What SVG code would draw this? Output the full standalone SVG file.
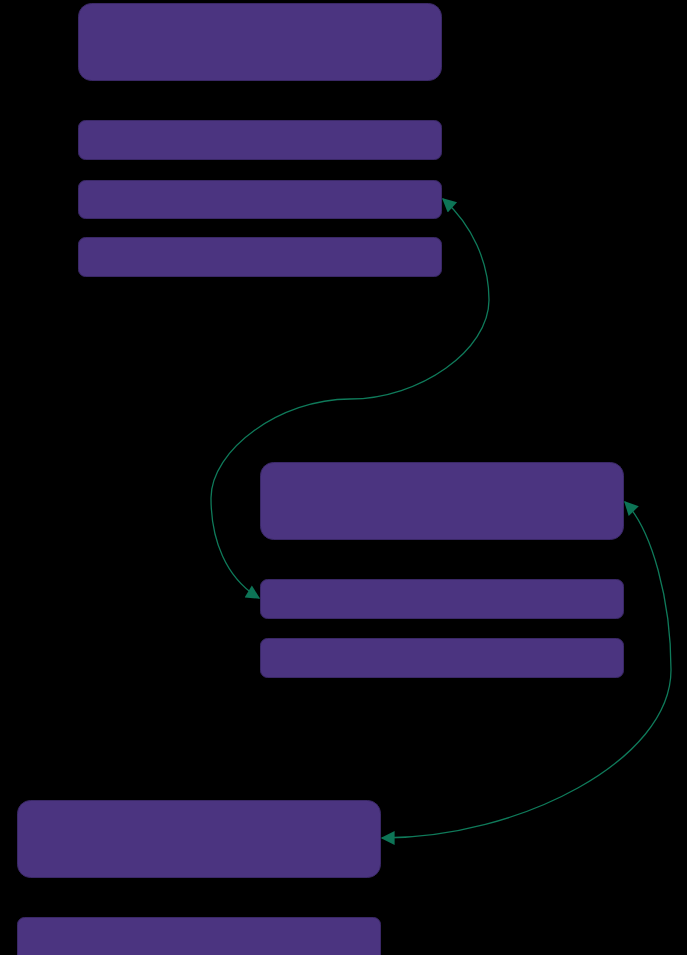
<svg xmlns="http://www.w3.org/2000/svg" width="687" height="955" viewBox="0 0 687 955">
<style>
.n{fill:#4b3480;stroke:#3a2866;stroke-width:1}
.e{fill:none;stroke:#0f7a5a;stroke-width:1.3}
</style>
<defs>
<marker id="ah" viewBox="0 0 10 10" refX="9" refY="5" markerWidth="17" markerHeight="14" markerUnits="userSpaceOnUse" orient="auto-start-reverse">
<path d="M0,0 L10,5 L0,10 z" fill="#0d7456"/>
</marker>
</defs>
<rect width="687" height="955" fill="#000"/>
<g id="node1"><rect class="n" x="78.5" y="3.5" width="363" height="77" rx="13"/></g>
<g id="node2"><rect class="n" x="78.5" y="120.5" width="363" height="39" rx="7"/></g>
<g id="node3"><rect class="n" x="78.5" y="180.5" width="363" height="38" rx="7"/></g>
<g id="node4"><rect class="n" x="78.5" y="237.5" width="363" height="39" rx="7"/></g>
<g id="node5"><rect class="n" x="260.5" y="462.5" width="363" height="77" rx="13"/></g>
<g id="node6"><rect class="n" x="260.5" y="579.5" width="363" height="39" rx="7"/></g>
<g id="node7"><rect class="n" x="260.5" y="638.5" width="363" height="39" rx="7"/></g>
<g id="node8"><rect class="n" x="17.5" y="800.5" width="363" height="77" rx="13"/></g>
<g id="node9"><rect class="n" x="17.5" y="917.5" width="363" height="45" rx="7"/></g>
<g id="connectors">
<path class="e" d="M443,199 C472,225 489,262 489,300 C489,350 420,399 350,399 C280,399 211,450 211,498 C211,540 226,578 259,598" marker-start="url(#ah)" marker-end="url(#ah)"/>
<path class="e" d="M625,502 C652,530 671,600 671,670 C671,760 520,838 382,838" marker-start="url(#ah)" marker-end="url(#ah)"/>
</g>
</svg>
